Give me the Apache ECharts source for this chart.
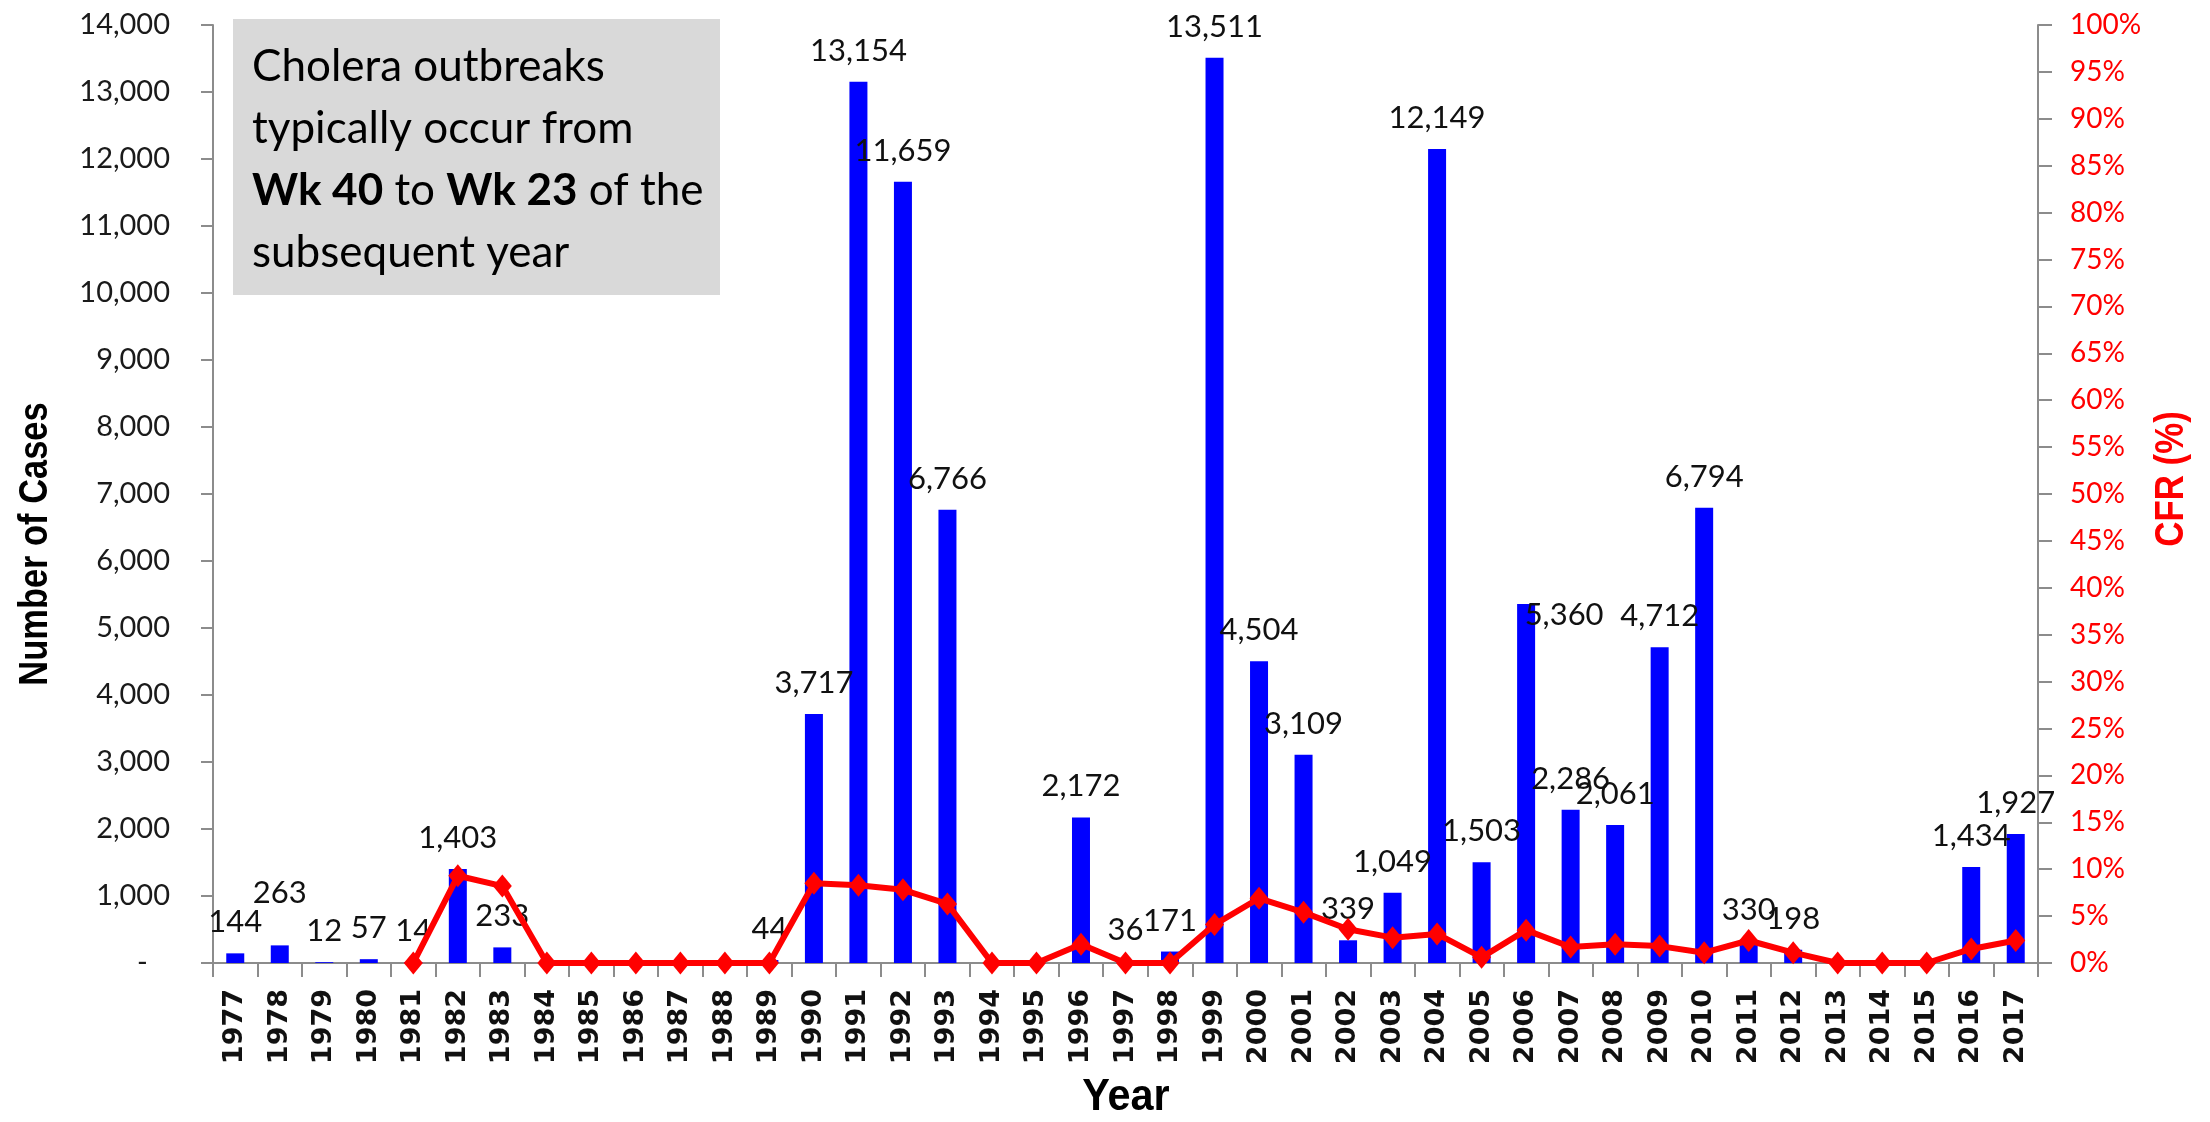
<!DOCTYPE html>
<html>
<head>
<meta charset="utf-8">
<script src="https://cdn.jsdelivr.net/npm/echarts@6/dist/echarts.min.js"></script>
<style>
  html, body { margin: 0; padding: 0; background: #fff; }
  #app { width: 2210px; height: 1122px; }
</style>
</head>
<body>
<div id="app"></div>
<script>
const years = ["1977", "1978", "1979", "1980", "1981", "1982", "1983", "1984", "1985", "1986",
  "1987", "1988", "1989", "1990", "1991", "1992", "1993", "1994", "1995", "1996",
  "1997", "1998", "1999", "2000", "2001", "2002", "2003", "2004", "2005", "2006",
  "2007", "2008", "2009", "2010", "2011", "2012", "2013", "2014", "2015", "2016", "2017"];

// number of cases per year (null = no bar)
const cases = [144, 263, 12, 57, 14, 1403, 233, null, null, null,
  null, null, 44, 3717, 13154, 11659, 6766, null, null, 2172,
  36, 171, 13511, 4504, 3109, 339, 1049, 12149, 1503, 5360,
  2286, 2061, 4712, 6794, 330, 198, null, null, null, 1434, 1927];

// case fatality rate in %
const cfr = [null, null, null, null, 0, 9.3, 8.2, 0, 0, 0,
  0, 0, 0, 8.5, 8.3, 7.8, 6.3, 0, 0, 2.0,
  0, 0, 4.1, 6.9, 5.4, 3.6, 2.7, 3.1, 0.6, 3.5,
  1.7, 2.0, 1.8, 1.1, 2.4, 1.1, 0, 0, 0, 1.5, 2.4];

// a few labels were moved by hand in the original
const labelNudge = { "1978": [0, -21], "2006": [38, 42] };

const dom = document.getElementById("app");
const myChart = echarts.init(dom);

const barData = cases.map((v, i) => {
  const off = labelNudge[years[i]];
  return off ? { value: v, label: { offset: off } } : v;
});

const axisGray = "#8c8c8c";
const titleFont = "'Liberation Sans Narrow', 'Liberation Sans', sans-serif";

myChart.setOption({
  animation: false,
  backgroundColor: "#fff",
  grid: { left: 213, right: 172, top: 25, bottom: 159 },
  xAxis: {
    type: "category",
    data: years,
    axisLine: { lineStyle: { color: axisGray, width: 2 } },
    axisTick: { show: true, length: 14, lineStyle: { color: axisGray, width: 2 } },
    axisLabel: {
      interval: 0,
      rotate: 90,
      margin: 26,
      fontFamily: "DejaVu Sans",
      fontWeight: "bold",
      fontSize: 27,
      color: "#111"
    }
  },
  yAxis: [
    {
      type: "value",
      min: 0,
      max: 14000,
      interval: 1000,
      splitLine: { show: false },
      axisLine: { show: true, lineStyle: { color: axisGray, width: 2 } },
      axisTick: { show: true, length: 12, lineStyle: { color: axisGray, width: 2 } },
      axisLabel: {
        margin: 43,
        fontFamily: "Lato",
        fontSize: 29,
        color: "#1a1a1a",
        formatter: v => (v === 0 ? "-   " : v.toLocaleString("en-US"))
      }
    },
    {
      type: "value",
      min: 0,
      max: 100,
      interval: 5,
      position: "right",
      splitLine: { show: false },
      axisLine: { show: true, lineStyle: { color: axisGray, width: 2 } },
      axisTick: { show: true, length: 14, lineStyle: { color: axisGray, width: 2 } },
      axisLabel: {
        margin: 32,
        fontFamily: "Lato",
        fontSize: 28,
        color: "#ff0000",
        formatter: "{value}%"
      }
    }
  ],
  series: [
    {
      name: "Cases",
      type: "bar",
      barWidth: 18,
      itemStyle: { color: "#0000ff" },
      label: {
        show: true,
        position: "top",
        distance: 16,
        fontFamily: "Lato",
        fontSize: 31,
        lineHeight: 30,
        color: "#111",
        formatter: p => p.value.toLocaleString("en-US")
      },
      data: barData
    },
    {
      name: "CFR",
      type: "line",
      yAxisIndex: 1,
      symbol: "diamond",
      symbolSize: [19, 23],
      itemStyle: { color: "#ff0000" },
      lineStyle: { color: "#ff0000", width: 6 },
      z: 5,
      data: cfr
    }
  ],
  graphic: [
    {
      type: "rect",
      left: 233,
      top: 19,
      shape: { width: 487, height: 276 },
      style: { fill: "#d9d9d9" }
    },
    {
      type: "text",
      left: 252,
      top: 36,
      style: {
        text: "Cholera outbreaks\ntypically occur from\n{b|Wk 40} to {b|Wk 23} of the\nsubsequent year",
        fontFamily: "Lato",
        fontSize: 44,
        lineHeight: 62,
        fill: "#000",
        rich: {
          b: { fontFamily: "Lato", fontSize: 44, fontWeight: "bold", lineHeight: 62 }
        }
      }
    },
    {
      type: "text",
      x: 36,
      y: 544,
      rotation: Math.PI / 2,
      scaleX: 0.84,
      style: {
        text: "Number of Cases",
        fontFamily: titleFont,
        fontWeight: "bold",
        fontSize: 41,
        fill: "#000",
        align: "center",
        verticalAlign: "middle"
      }
    },
    {
      type: "text",
      x: 2172,
      y: 479,
      rotation: Math.PI / 2,
      scaleX: 0.85,
      style: {
        text: "CFR (%)",
        fontFamily: titleFont,
        fontWeight: "bold",
        fontSize: 41,
        fill: "#ff0000",
        align: "center",
        verticalAlign: "middle"
      }
    },
    {
      type: "text",
      x: 1126,
      y: 1098,
      scaleX: 0.94,
      style: {
        text: "Year",
        fontFamily: titleFont,
        fontWeight: "bold",
        fontSize: 44,
        fill: "#000",
        align: "center",
        verticalAlign: "middle"
      }
    }
  ]
});
</script>
</body>
</html>
